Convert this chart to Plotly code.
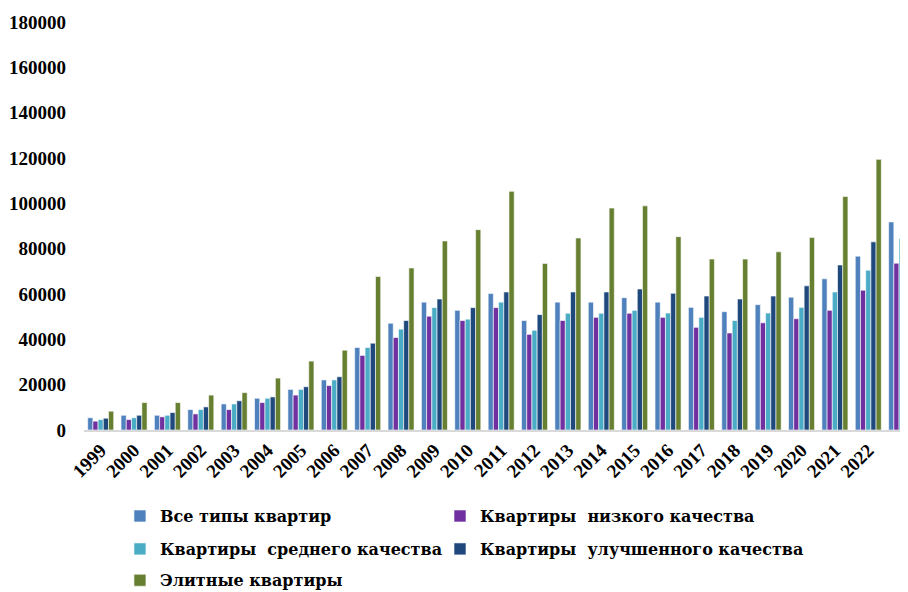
import plotly.graph_objects as go

years = ["1999", "2000", "2001", "2002", "2003", "2004", "2005", "2006", "2007", "2008",
         "2009", "2010", "2011", "2012", "2013", "2014", "2015", "2016", "2017", "2018",
         "2019", "2020", "2021", "2022", ""]

all_types = [5400, 6500, 6500, 9000, 11500, 14000, 17900, 22100, 36400, 47100,
             56400, 52800, 60200, 48300, 56400, 56400, 58400, 56400, 54100, 52200,
             55300, 58600, 66700, 76700, 91800]
low_q = [3900, 4600, 5800, 7100, 9000, 12100, 15400, 19600, 32900, 40800,
         50200, 48300, 54000, 42200, 48300, 49700, 51500, 49700, 45300, 42800,
         47300, 49100, 52800, 61700, 73600]
mid_q = [4600, 5400, 6500, 9000, 11500, 14000, 17900, 22100, 36400, 44500,
         54000, 48900, 56400, 44000, 51500, 51500, 52800, 51600, 49700, 48300,
         51600, 54100, 60900, 70500, 84400]
imp_q = [5200, 6500, 7700, 10200, 12900, 14600, 19100, 23500, 38300, 48300,
         57800, 54000, 60900, 50900, 60900, 60900, 62200, 60300, 59100, 57800,
         59100, 63600, 72800, 83000, 99900]
elite = [8300, 12100, 12100, 15400, 16500, 22900, 30400, 35200, 67700, 71500,
         83400, 88400, 105300, 73500, 84700, 97900, 98900, 85300, 75400, 75400,
         78600, 84900, 103000, 119400, None]

series_names = ["Все типы квартир", "Квартиры  низкого качества",
                "Квартиры  среднего качества", "Квартиры  улучшенного качества",
                "Элитные квартиры"]
series_values = [all_types, low_q, mid_q, imp_q, elite]
colors = ["#4F81BD", "#7030A0", "#4BACC6", "#1F497D", "#667F30"]
legend_ids = ["legend", "legend2", "legend3", "legend4", "legend5"]
legend_x = [0.1244, 0.48, 0.1244, 0.48, 0.1244]
legend_y = [0.130, 0.130, 0.0736, 0.0736, 0.0200]

y_ticks = [0, 20000, 40000, 60000, 80000, 100000, 120000, 140000, 160000, 180000]

x_idx = list(range(len(years)))

FAM = "'Liberation Serif', 'Times New Roman', serif"
LEG_FAM = "'DejaVu Serif'"

fig = go.Figure()
for name, vals, col, lg in zip(series_names, series_values, colors, legend_ids):
    fig.add_trace(go.Bar(
        x=x_idx, y=vals, name=name, legend=lg,
        marker=dict(color=col, line=dict(color="white", width=0.6)),
    ))

legends = {}
for lg, lx, ly in zip(legend_ids, legend_x, legend_y):
    legends[lg] = dict(
        orientation="h", xref="container", yref="container",
        x=lx, xanchor="left", y=ly, yanchor="middle",
        font=dict(family=LEG_FAM, size=16, color="black", weight="bold"),
        itemwidth=30, bgcolor="rgba(0,0,0,0)",
    )

fig.update_layout(
    width=900, height=584,
    barmode="group", bargap=0.22, bargroupgap=0.0,
    plot_bgcolor="white", paper_bgcolor="white",
    margin=dict(l=76, r=0, t=14, b=162),
    font=dict(family=FAM, size=19, color="black"),
    showlegend=True,
    **legends,
)

fig.update_xaxes(
    tickmode="array", tickvals=x_idx, ticktext=years,
    range=[-0.5, 24.19], automargin=False,
    tickangle=-45, showgrid=False, zeroline=False,
    showline=True, linecolor="#D9D9D9", linewidth=1.5,
    ticks="", tickfont=dict(family=FAM, size=19, color="black", weight="bold"),
)
fig.update_yaxes(
    range=[0, 180000], tickmode="array", tickvals=y_ticks,
    ticktext=[str(v) for v in y_ticks], automargin=False,
    showgrid=False, zeroline=False, showline=False, ticks="",
    ticklabelstandoff=17,
    tickfont=dict(family=FAM, size=19, color="black", weight="bold"),
)

fig.write_html("out.html")
